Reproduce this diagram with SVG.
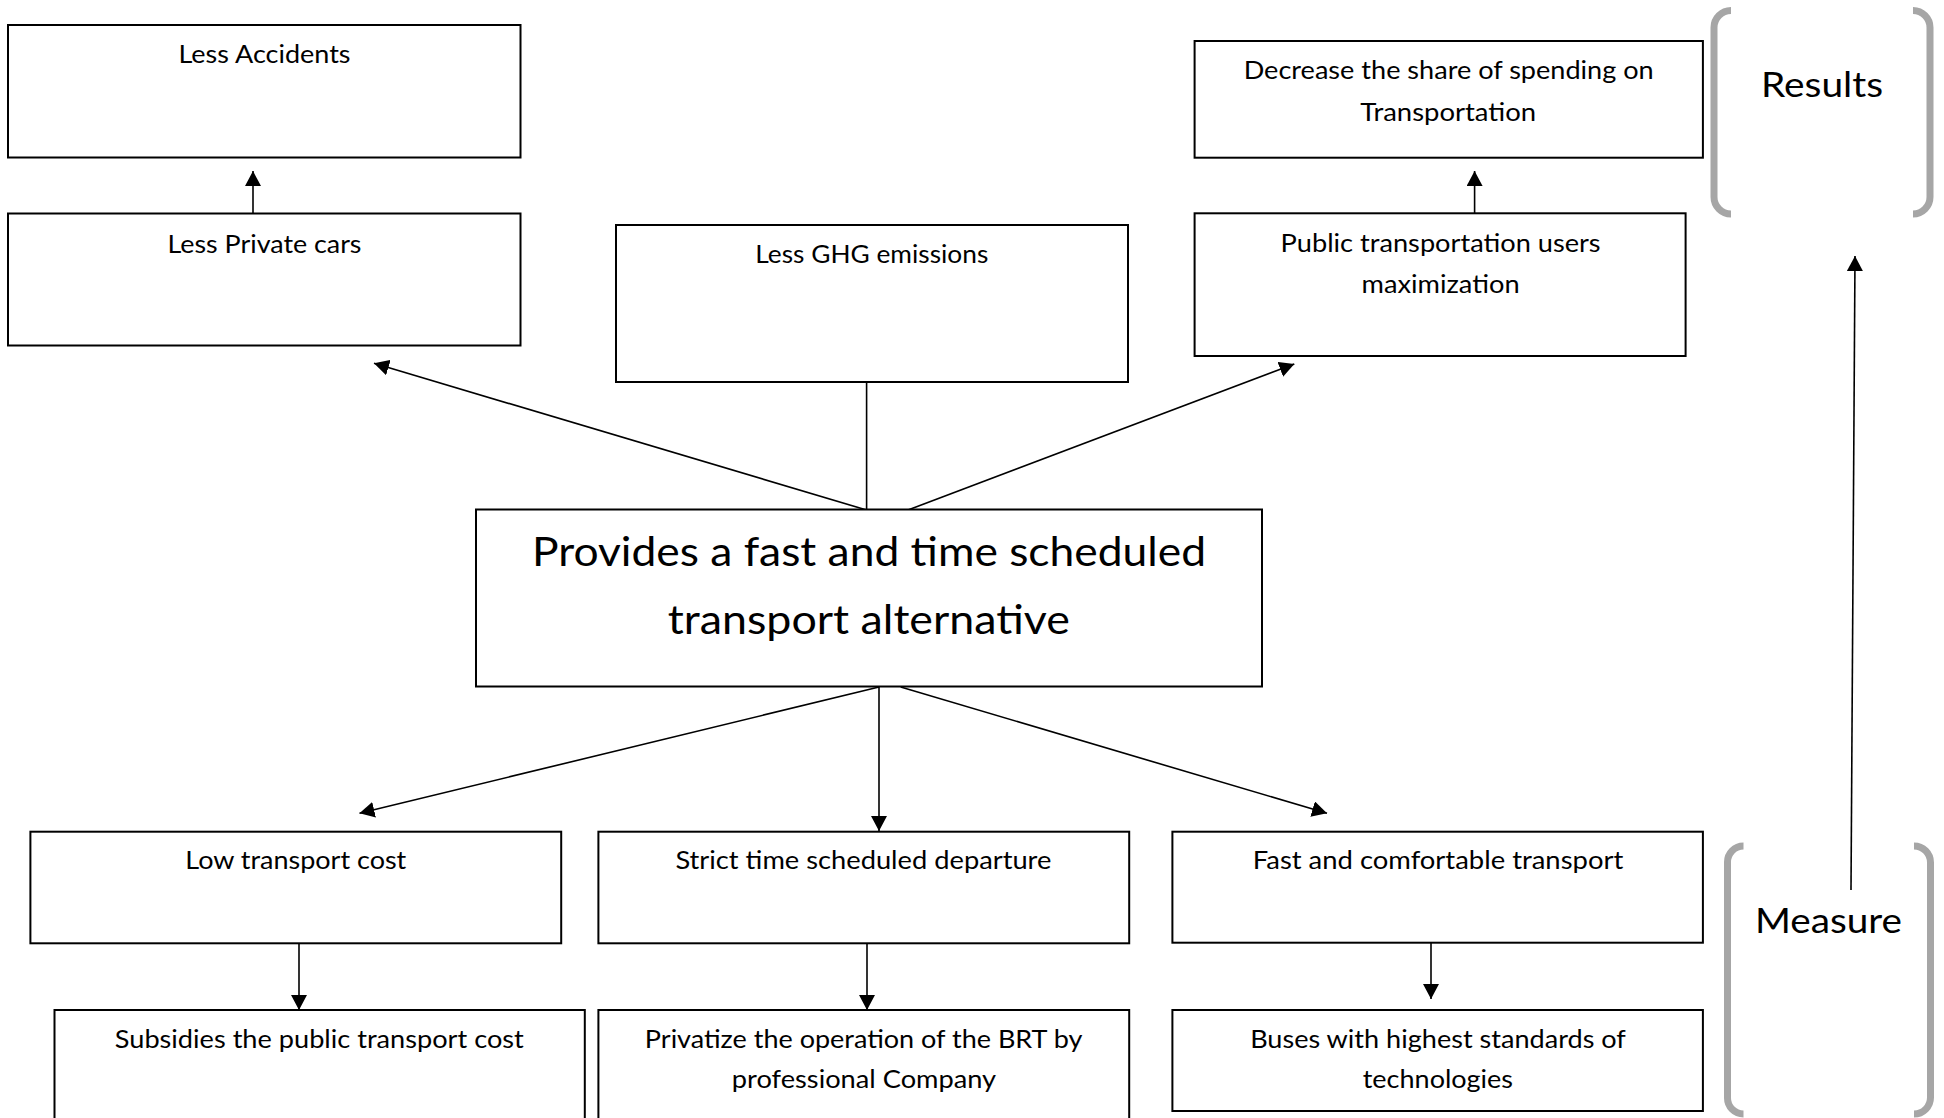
<svg xmlns="http://www.w3.org/2000/svg" width="1944" height="1118" viewBox="0 0 1944 1118">
  <style>
    .box { fill: #ffffff; stroke: #000000; stroke-width: 2; }
    .lbl { font-family: Lato, "Open Sans", "Liberation Sans", sans-serif; font-size: 25px; fill: #000000; text-anchor: middle; }
    .big { font-size: 41px; }
    .tag { font-size: 35px; }
    .wire { fill: none; stroke: #000000; stroke-width: 1.6; }
    .bracket { fill: none; stroke: #a6a6a6; stroke-width: 7; }
  </style>
  <defs>
    <marker id="head" markerUnits="userSpaceOnUse" markerWidth="16" markerHeight="16" viewBox="0 0 16 16" refX="15" refY="8" orient="auto">
      <path d="M0,0 L15,8 L0,16 z" fill="#000000"/>
    </marker>
  </defs>
  <rect width="1944" height="1118" fill="#ffffff"/>

  <!-- side brackets grouping the results and the measures -->
  <g id="results-bracket">
    <path class="bracket" d="M1731,10.5 A17,17 0 0 0 1714,27.5 V197 A17,17 0 0 0 1731,214"/>
    <path class="bracket" d="M1913,10.5 A17,17 0 0 1 1930,27.5 V197 A17,17 0 0 1 1913,214"/>
    <text class="lbl tag" x="1822" y="97" textLength="122" lengthAdjust="spacingAndGlyphs">Results</text>
  </g>
  <g id="measure-bracket">
    <path class="bracket" d="M1743.5,846 A16,16 0 0 0 1727.5,862 V1098 A16,16 0 0 0 1743.5,1114"/>
    <path class="bracket" d="M1914,846 A16.5,16.5 0 0 1 1930.5,862.5 V1097.5 A16.5,16.5 0 0 1 1914,1114"/>
    <text class="lbl tag" x="1828.5" y="933" textLength="147" lengthAdjust="spacingAndGlyphs">Measure</text>
  </g>

  <!-- connectors -->
  <g id="connectors">
    <line class="wire" x1="253" y1="213.5" x2="253" y2="171" marker-end="url(#head)"/>
    <line class="wire" x1="1474.6" y1="213.3" x2="1474.6" y2="171" marker-end="url(#head)"/>
    <line class="wire" x1="866.6" y1="382" x2="866.6" y2="510"/>
    <line class="wire" x1="866.6" y1="510" x2="374" y2="363.3" marker-end="url(#head)"/>
    <line class="wire" x1="908" y1="510" x2="1294.3" y2="364" marker-end="url(#head)"/>
    <line class="wire" x1="879" y1="687" x2="359.5" y2="813.3" marker-end="url(#head)"/>
    <line class="wire" x1="879" y1="687" x2="879" y2="831" marker-end="url(#head)"/>
    <line class="wire" x1="900.7" y1="687" x2="1327" y2="813.3" marker-end="url(#head)"/>
    <line class="wire" x1="299" y1="943.3" x2="299" y2="1010" marker-end="url(#head)"/>
    <line class="wire" x1="867" y1="943.3" x2="867" y2="1010" marker-end="url(#head)"/>
    <line class="wire" x1="1431" y1="942.7" x2="1431" y2="999" marker-end="url(#head)"/>
    <line class="wire" x1="1851" y1="890" x2="1855" y2="256" marker-end="url(#head)"/>
  </g>

  <!-- result nodes -->
  <g id="less-accidents">
    <rect class="box" x="8" y="25" width="512.5" height="132.5"/>
    <text class="lbl" x="264.5" y="63.3" textLength="172" lengthAdjust="spacingAndGlyphs">Less Accidents</text>
  </g>
  <g id="less-private-cars">
    <rect class="box" x="8" y="213.5" width="512.5" height="132"/>
    <text class="lbl" x="264.5" y="253.3" textLength="194" lengthAdjust="spacingAndGlyphs">Less Private cars</text>
  </g>
  <g id="less-ghg">
    <rect class="box" x="616" y="225" width="512" height="157"/>
    <text class="lbl" x="871.8" y="263" textLength="233" lengthAdjust="spacingAndGlyphs">Less GHG emissions</text>
  </g>
  <g id="decrease-spending">
    <rect class="box" x="1194.6" y="41" width="508.3" height="116.7"/>
    <text class="lbl" x="1448.7" y="79" textLength="410" lengthAdjust="spacingAndGlyphs">Decrease the share of spending on</text>
    <text class="lbl" x="1448.2" y="120.7" textLength="176" lengthAdjust="spacingAndGlyphs">Transportation</text>
  </g>
  <g id="public-users">
    <rect class="box" x="1194.6" y="213.3" width="491" height="142.7"/>
    <text class="lbl" x="1440.6" y="251.7" textLength="320" lengthAdjust="spacingAndGlyphs">Public transportation users</text>
    <text class="lbl" x="1440.6" y="292.7" textLength="158" lengthAdjust="spacingAndGlyphs">maximization</text>
  </g>

  <!-- central node -->
  <g id="fast-scheduled">
    <rect class="box" x="476" y="509.5" width="786" height="177"/>
    <text class="lbl big" x="869" y="566" textLength="674" lengthAdjust="spacingAndGlyphs">Provides a fast and time scheduled</text>
    <text class="lbl big" x="868.8" y="634" textLength="402" lengthAdjust="spacingAndGlyphs">transport alternative</text>
  </g>

  <!-- measure nodes -->
  <g id="low-cost">
    <rect class="box" x="30.4" y="831.7" width="530.8" height="111.6"/>
    <text class="lbl" x="295.8" y="869.3" textLength="221" lengthAdjust="spacingAndGlyphs">Low transport cost</text>
  </g>
  <g id="strict-departure">
    <rect class="box" x="598.4" y="831.7" width="530.8" height="111.6"/>
    <text class="lbl" x="863.4" y="869.3" textLength="376" lengthAdjust="spacingAndGlyphs">Strict time scheduled departure</text>
  </g>
  <g id="fast-comfortable">
    <rect class="box" x="1172.4" y="831.7" width="530.5" height="111"/>
    <text class="lbl" x="1438" y="869.3" textLength="370.6" lengthAdjust="spacingAndGlyphs">Fast and comfortable transport</text>
  </g>
  <g id="subsidies">
    <rect class="box" x="54.5" y="1010" width="530.3" height="120"/>
    <text class="lbl" x="319.3" y="1048.3" textLength="409" lengthAdjust="spacingAndGlyphs">Subsidies the public transport cost</text>
  </g>
  <g id="privatize">
    <rect class="box" x="598.4" y="1010" width="530.8" height="120"/>
    <text class="lbl" x="863.6" y="1048.3" textLength="437.5" lengthAdjust="spacingAndGlyphs">Privatize the operation of the BRT by</text>
    <text class="lbl" x="864" y="1088.3" textLength="264.3" lengthAdjust="spacingAndGlyphs">professional Company</text>
  </g>
  <g id="buses">
    <rect class="box" x="1172.4" y="1010" width="530.5" height="101"/>
    <text class="lbl" x="1438" y="1048.3" textLength="375.7" lengthAdjust="spacingAndGlyphs">Buses with highest standards of</text>
    <text class="lbl" x="1437.9" y="1088.3" textLength="150.3" lengthAdjust="spacingAndGlyphs">technologies</text>
  </g>
</svg>
